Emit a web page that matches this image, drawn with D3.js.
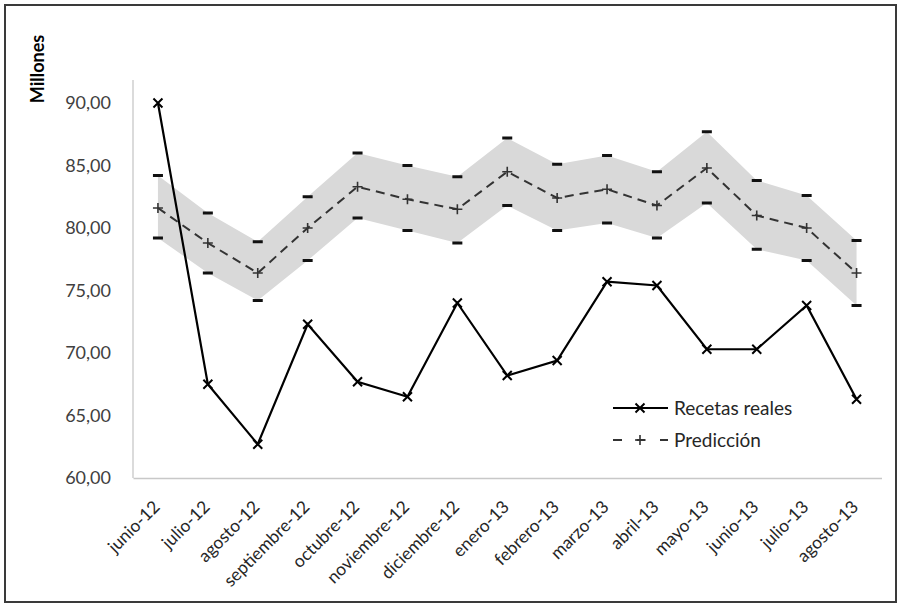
<!DOCTYPE html>
<html><head><meta charset="utf-8">
<script src="https://cdn.jsdelivr.net/npm/d3@7"></script>
<style>
body{margin:0;background:#fff;}
svg text{font-family:Lato,"Open Sans",sans-serif;}
</style></head>
<body><svg id="c" width="900" height="605"></svg>
<script>
const categories = ["junio-12","julio-12","agosto-12","septiembre-12","octubre-12","noviembre-12","diciembre-12","enero-13","febrero-13","marzo-13","abril-13","mayo-13","junio-13","julio-13","agosto-13"];
const recetasReales = [90.0,67.5,62.7,72.3,67.7,66.5,74.0,68.2,69.4,75.7,75.4,70.3,70.3,73.8,66.3];
const prediccion = [81.6,78.8,76.4,80.0,83.3,82.3,81.5,84.5,82.4,83.1,81.8,84.8,81.0,80.0,76.4];
const limiteSuperior = [84.2,81.2,78.9,82.5,86.0,85.0,84.1,87.2,85.1,85.8,84.5,87.7,83.8,82.6,79.0];
const limiteInferior = [79.2,76.4,74.2,77.4,80.8,79.8,78.8,81.8,79.8,80.4,79.2,82.0,78.3,77.4,73.8];
const yTicks = [60,65,70,75,80,85,90];
const seriesNames = ["Recetas reales","Predicción"];
const yTitle = "Millones";

const svg = d3.select("#c");
const L = 133, R = 881.5, B = 478;
const x = d3.scaleBand().domain(categories).range([L, R]).padding(0);
const cx = d => x(d) + x.bandwidth()/2;
const y = d3.scaleLinear().domain([60,90]).range([B,103]);
const T = y(90) - 23;
const fmt = v => d3.format(".2f")(v).replace(".", ",");

// outer border
svg.append("rect").attr("x",5).attr("y",5).attr("width",891).attr("height",597)
  .attr("fill","#fff").attr("stroke","#3a3a3a").attr("stroke-width",2);

// band
const idx = d3.range(categories.length);
svg.append("path").datum(idx)
  .attr("d", d3.area().x(i=>cx(categories[i])).y0(i=>y(limiteInferior[i])).y1(i=>y(limiteSuperior[i])))
  .attr("fill","#d9d9d9");

// axes lines
svg.append("line").attr("x1",L).attr("x2",L).attr("y1",T).attr("y2",B).attr("stroke","#c8c8c8").attr("stroke-width",1.3);
const yAxis = svg.append("g").attr("transform",`translate(${L},0)`)
  .call(d3.axisLeft(y).tickValues(yTicks).tickFormat(fmt).tickSize(0).tickPadding(22));
yAxis.select(".domain").remove();
yAxis.selectAll("text").attr("font-size",18).attr("fill","#404040");

const xAxis = svg.append("g").attr("transform",`translate(0,${B})`)
  .call(d3.axisBottom(x).tickSize(0).tickPadding(0));
xAxis.select(".domain").attr("stroke","#c8c8c8").attr("stroke-width",1.3);
xAxis.selectAll("text").attr("font-size",17.5).attr("fill","#262626")
  .attr("text-anchor","end").attr("dy",0)
  .attr("transform","translate(3,30) rotate(-45)");

// y title
svg.append("text").attr("transform",`translate(44,69) rotate(-90)`)
  .attr("text-anchor","middle").attr("font-size",18).attr("font-weight","bold").attr("fill","#000").text(yTitle);

// limit markers
const dash = (vals) => svg.append("g").selectAll("rect").data(idx).join("rect")
  .attr("x", i=>cx(categories[i])-5).attr("y", i=>y(vals[i])-1.5)
  .attr("width",10).attr("height",3).attr("fill","#111");
dash(limiteSuperior); dash(limiteInferior);

// prediction
svg.append("path").datum(idx)
  .attr("d", d3.line().x(i=>cx(categories[i])).y(i=>y(prediccion[i])))
  .attr("fill","none").attr("stroke","#333").attr("stroke-width",2).attr("stroke-dasharray","9,6");
const plus = (g, px, py, s) => g.append("path")
  .attr("d", `M${px-s},${py}H${px+s}M${px},${py-s}V${py+s}`).attr("stroke","#333").attr("stroke-width",1.6);
const pg = svg.append("g");
idx.forEach(i => plus(pg, cx(categories[i]), y(prediccion[i]), 5));

// real
svg.append("path").datum(idx)
  .attr("d", d3.line().x(i=>cx(categories[i])).y(i=>y(recetasReales[i])))
  .attr("fill","none").attr("stroke","#000").attr("stroke-width",2.2);
const cross = (g, px, py, s) => g.append("path")
  .attr("d", `M${px-s},${py-s}L${px+s},${py+s}M${px-s},${py+s}L${px+s},${py-s}`).attr("stroke","#000").attr("stroke-width",2);
const rg = svg.append("g");
idx.forEach(i => cross(rg, cx(categories[i]), y(recetasReales[i]), 4.5));

// legend
const lg = svg.append("g");
lg.append("line").attr("x1",613).attr("x2",668).attr("y1",408).attr("y2",408).attr("stroke","#000").attr("stroke-width",2.2);
cross(lg, 640, 408, 4.5);
lg.append("text").attr("x",674).attr("y",408).attr("dy","0.35em").attr("font-size",19).attr("fill","#262626").text(seriesNames[0]);
lg.append("line").attr("x1",613).attr("x2",668).attr("y1",440).attr("y2",440).attr("stroke","#333").attr("stroke-width",2).attr("stroke-dasharray","9,14.5");
plus(lg, 640, 440, 5);
lg.append("text").attr("x",674).attr("y",440).attr("dy","0.35em").attr("font-size",19).attr("fill","#262626").text(seriesNames[1]);
</script></body></html>
